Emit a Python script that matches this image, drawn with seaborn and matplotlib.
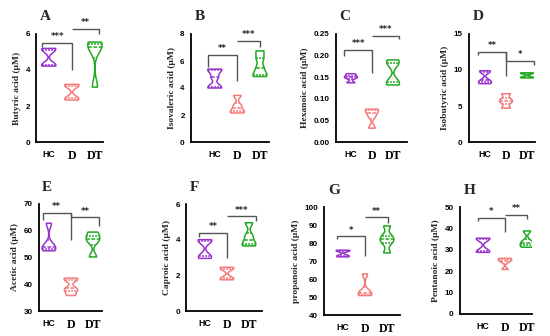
import numpy as np
import pandas as pd
import matplotlib
matplotlib.use("Agg")
import matplotlib.pyplot as plt
import seaborn as sns

groups = ["HC", "D", "DT"]
colors = ["#9933CC", "#F47A7A", "#22AA22"]

# sample values per group
butyric = [[4.22, 4.3, 5.1, 5.2], [2.33, 2.45, 3.1, 3.2], [3.05, 5.2, 5.4, 5.55]]
isovaleric = [[4.0, 4.1, 4.8, 5.3, 5.4], [2.15, 2.3, 2.7, 3.45], [4.85, 5.0, 5.5, 6.2, 6.75]]
hexanoic = [[0.137, 0.148, 0.152, 0.158], [0.032, 0.06, 0.072, 0.076], [0.132, 0.14, 0.18, 0.19]]
isobutyric = [[8.1, 8.3, 8.6, 9.7, 9.9], [4.7, 5.5, 5.9, 6.7], [8.9, 9.0, 9.5, 9.6]]
acetic = [[52.5, 53.5, 54.5, 62.8], [35.8, 37.5, 38.5, 41.5, 42.3], [50.2, 56.0, 57.5, 59.5]]
caproic = [[2.95, 3.1, 3.9, 4.0], [1.75, 1.85, 2.35, 2.45], [3.65, 3.8, 4.2, 4.95]]
propanoic = [[72.3, 73.0, 75.5, 76.0], [50.8, 51.5, 53.0, 62.8], [74.5, 80.0, 82.0, 84.0, 89.5]]
pentanoic = [[28.8, 29.5, 35.0, 35.4], [20.8, 24.5, 25.5, 26.0], [31.2, 32.5, 34.0, 38.8]]

labels = ["Butyric acid (μM)", "Isovaleric acid (μM)", "Hexanoic acid (μM)", "Isobutyric acid (μM)",
          "Acetic acid (μM)", "Caproic acid (μM)", "propanoic acid (μM)", "Pentanoic acid (μM)"]
letters = ["A", "B", "C", "D", "E", "F", "G", "H"]
yticks = [[0, 2, 4, 6], [0, 2, 4, 6, 8], [0, 0.05, 0.10, 0.15, 0.20, 0.25], [0, 5, 10, 15],
          [30, 40, 50, 60, 70], [0, 2, 4, 6], [40, 50, 60, 70, 80, 90, 100], [0, 10, 20, 30, 40, 50]]
stars = [("***", "**"), ("**", "***"), ("***", "***"), ("**", "*"),
         ("**", "**"), ("**", "***"), ("*", "**"), ("*", "**")]
datasets = [butyric, isovaleric, hexanoic, isobutyric, acetic, caproic, propanoic, pentanoic]

# layout: axes box in pixels (left, right, top, bottom), xlim
boxes = [(36, 103, 34, 142), (191, 269, 34, 142), (336, 407, 34, 142), (469, 535, 34, 142),
         (39, 102, 204, 311), (186, 262, 204, 311), (324, 400, 207, 315), (460, 532, 207, 314)]
xlims = [(-0.55, 2.35), (-1.05, 2.4), (-0.71, 2.67), (-0.76, 2.38),
         (-0.45, 2.41), (-0.86, 2.59), (-0.86, 2.59), (-1.05, 2.23)]
# brackets: left end, right end, h1, hc drop, d bottom, h2, dt drop
brackets = [(-0.27, 2.17, 5.5, 5.3, 4.0, 6.3, 6.0),
            (-0.3, 2.0, 6.44, 5.56, 4.5, 7.5, 7.06),
            (-0.32, 2.3, 0.213, 0.200, 0.160, 0.246, 0.238),
            (-0.35, 2.33, 12.55, 12.1, 9.17, 11.25, 10.7),
            (-0.29, 2.29, 66.6, 64.1, 56.4, 65.0, 61.7),
            (-0.26, 2.32, 4.37, 4.13, 3.0, 5.31, 5.03),
            (-0.29, 2.03, 83.7, 82.2, 72.6, 94.3, 91.1),
            (-0.24, 2.0, 44.9, 43.6, 38.2, 46.4, 44.4)]

W, H = 550, 336
fig = plt.figure(figsize=(5.5, 3.36), dpi=100)
sns.set_style("white")

for i in range(8):
    l, r, t, b = boxes[i]
    ax = fig.add_axes([l / W, 1 - b / H, (r - l) / W, (b - t) / H])
    rows = []
    for g, vals in zip(groups, datasets[i]):
        for v in vals:
            rows.append((g, v))
    df = pd.DataFrame(rows, columns=["group", "value"])
    sns.violinplot(data=df, x="group", y="value", hue="group", order=groups, hue_order=groups,
                   palette=colors, fill=False, inner="quart", cut=0, bw_adjust=0.45,
                   density_norm="width", width=0.62, linewidth=1.1, legend=False, ax=ax)
    yt = yticks[i]
    ax.set_ylim(yt[0], yt[-1])
    ax.set_yticks(yt)
    if i == 2:
        ax.set_yticklabels(["%.2f" % v for v in yt])
    ax.set_xlim(*xlims[i])
    ax.set_xlabel("")
    ax.set_ylabel(labels[i], fontfamily="Liberation Serif", fontweight="bold", fontsize=6.8, labelpad=3)
    sns.despine(ax=ax)
    for s in ["left", "bottom"]:
        ax.spines[s].set_linewidth(1.3)
        ax.spines[s].set_color("black")
    ax.tick_params(direction="out", length=3, width=1.1, pad=1.5, colors="black")
    for tl in ax.get_yticklabels():
        tl.set_fontfamily("Liberation Sans")
        tl.set_fontweight("bold")
        tl.set_fontsize(5.8)
    for tl in ax.get_xticklabels():
        tl.set_fontweight("bold")
        if tl.get_text() == "HC":
            tl.set_fontfamily("Liberation Sans")
            tl.set_fontsize(6.3)
        else:
            tl.set_fontfamily("Liberation Serif")
            tl.set_fontsize(8.5)
    ax.tick_params(axis="x", pad=3)

    # significance brackets
    x0, x2, h1, d0, db, h2, d2 = brackets[i]
    kw = dict(color="#555555", lw=1.0, clip_on=False, solid_capstyle="butt")
    ax.plot([x0, x0, 1, 1], [d0, h1, h1, db], **kw)
    ax.plot([1, 1, x2, x2], [max(h1, h2), h2, h2, d2], **kw)
    off = (yt[-1] - yt[0]) * 0.015
    ax.text((x0 + 1) / 2, h1 + off, stars[i][0], ha="center", va="bottom", fontsize=6, fontweight="bold")
    ax.text((1 + x2) / 2, h2 + off, stars[i][1], ha="center", va="bottom", fontsize=6, fontweight="bold")

    ax.text(0.05, 1.0 + 17 / (b - t), letters[i], transform=ax.transAxes, fontfamily="Liberation Serif",
            fontweight="bold", fontsize=11, ha="left", va="center")

fig.savefig("out.png", dpi=100, facecolor="white")
